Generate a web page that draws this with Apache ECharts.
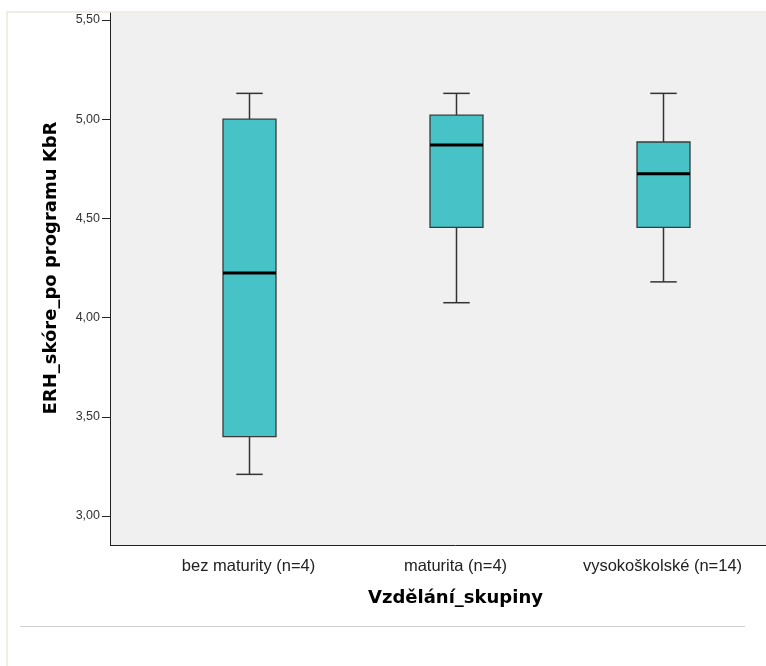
<!DOCTYPE html>
<html>
<head>
<meta charset="utf-8">
<script src="https://cdn.jsdelivr.net/npm/echarts@6/dist/echarts.min.js"></script>
<style>
  html, body { margin: 0; padding: 0; background: #fff; }
  #chart { width: 766px; height: 666px; }
</style>
</head>
<body>
<div id="chart"></div>
<script>
// skupiny a hodnoty krabicoveho grafu (cteno z obrazku)
var categories = ["bez maturity (n=4)", "maturita (n=4)", "vysokoškolské (n=14)"];
var whiskerLow = [3.21, 4.075, 4.18];
var q1 = [3.40, 4.455, 4.455];
var median = [4.225, 4.87, 4.725];
var q3 = [5.00, 5.02, 4.885];
var whiskerHigh = [5.13, 5.13, 5.13];
var yTicks = [3.0, 3.5, 4.0, 4.5, 5.0, 5.5];

var boxData = [];
for (var i = 0; i < categories.length; i++) {
  boxData.push([i, whiskerLow[i], q1[i], median[i], q3[i], whiskerHigh[i]]);
}

var myChart = echarts.init(document.getElementById("chart"));

function renderBox(params, api) {
  var x = api.value(0);
  var pLow = api.coord([x, api.value(1)]);
  var pQ1 = api.coord([x, api.value(2)]);
  var pMed = api.coord([x, api.value(3)]);
  var pQ3 = api.coord([x, api.value(4)]);
  var pHigh = api.coord([x, api.value(5)]);
  var band = api.size([1, 0])[0];
  var w = Math.round(band * 0.255);
  var cx = Math.round(pMed[0]) + 0.5;
  var half = w / 2;
  var cap = w / 4;
  var lineStyle = { stroke: "#333", lineWidth: 1.5 };
  return {
    type: "group",
    children: [
      // vousy
      { type: "line", shape: { x1: cx, y1: pHigh[1], x2: cx, y2: pQ3[1] }, style: lineStyle },
      { type: "line", shape: { x1: cx, y1: pQ1[1], x2: cx, y2: pLow[1] }, style: lineStyle },
      { type: "line", shape: { x1: cx - cap, y1: pHigh[1], x2: cx + cap, y2: pHigh[1] }, style: lineStyle },
      { type: "line", shape: { x1: cx - cap, y1: pLow[1], x2: cx + cap, y2: pLow[1] }, style: lineStyle },
      // krabice
      {
        type: "rect",
        shape: { x: cx - half, y: pQ3[1], width: w, height: pQ1[1] - pQ3[1] },
        style: { fill: "#47c2c6", stroke: "#3a3a3a", lineWidth: 1.3 }
      },
      // median
      {
        type: "line",
        shape: { x1: cx - half, y1: pMed[1], x2: cx + half, y2: pMed[1] },
        style: { stroke: "#000", lineWidth: 3 }
      }
    ]
  };
}

myChart.setOption({
  backgroundColor: "#fff",
  animation: false,
  graphic: [
    // ramecek, sedy pruh vlevo od mrizky a spodni cara
    { type: "rect", shape: { x: 7, y: 12, width: 770, height: 700 }, style: { fill: "none", stroke: "#ece9dc", lineWidth: 1.5 }, z: 0 },
    { type: "rect", shape: { x: 110, y: 13, width: 36, height: 532 }, style: { fill: "#f0f0f0" }, z: 0 },
    { type: "line", shape: { x1: 110, y1: 545.5, x2: 146, y2: 545.5 }, style: { stroke: "#222", lineWidth: 1 }, z: 10 },
    { type: "line", shape: { x1: 20, y1: 626.5, x2: 745, y2: 626.5 }, style: { stroke: "#cfcfcf", lineWidth: 1 }, z: 0 }
  ],
  grid: {
    left: 145,
    right: -15,
    top: 13,
    bottom: 121,
    show: true,
    backgroundColor: "#f0f0f0",
    borderWidth: 0
  },
  xAxis: {
    type: "category",
    data: categories,
    name: "Vzdělání_skupiny",
    nameLocation: "middle",
    nameGap: 44,
    nameTextStyle: { fontFamily: "DejaVu Sans", fontSize: 18, fontWeight: "bold", color: "#000" },
    axisLine: { lineStyle: { color: "#222", width: 1 } },
    axisTick: { alignWithLabel: true, length: 8, lineStyle: { color: "#222" } },
    axisLabel: { fontFamily: "Liberation Sans, Arial", fontSize: 16.5, color: "#222", margin: 13 },
    splitLine: { show: false }
  },
  yAxis: {
    type: "value",
    min: 2.854,
    max: 5.535,
    offset: 35,
    name: "ERH_skóre_po programu KbR",
    nameLocation: "middle",
    nameGap: 50,
    nameRotate: 90,
    nameTextStyle: { fontFamily: "DejaVu Sans", fontSize: 18, fontWeight: "bold", color: "#000", padding: [0, 0, 0, 22] },
    axisLine: { show: true, lineStyle: { color: "#222", width: 1 } },
    axisTick: { show: true, length: 8, customValues: yTicks, lineStyle: { color: "#222" } },
    axisLabel: {
      customValues: yTicks,
      fontFamily: "Liberation Sans, Arial",
      fontSize: 12.5,
      color: "#333",
      margin: 10,
      formatter: function (v) { return v.toFixed(2).replace(".", ","); }
    },
    splitLine: { show: false }
  },
  series: [
    {
      type: "custom",
      renderItem: renderBox,
      data: boxData,
      encode: { x: 0, y: [1, 2, 3, 4, 5] },
      z: 5
    }
  ]
});
</script>
</body>
</html>
